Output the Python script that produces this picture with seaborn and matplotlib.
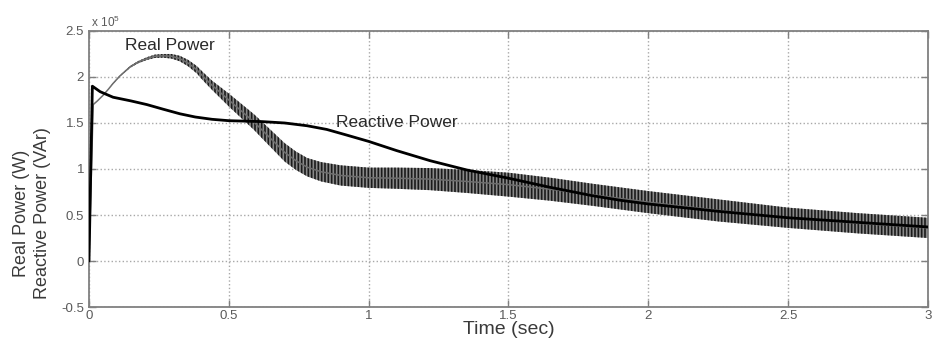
import matplotlib
matplotlib.use("Agg")
import matplotlib.pyplot as plt
from matplotlib.ticker import FuncFormatter
import pandas as pd
import seaborn as sns

# Real power: centre of the trace and half-width of its ripple (x 1e5 W)
t_real = [0.0, 0.015, 0.03, 0.05, 0.07, 0.086, 0.11, 0.147, 0.175, 0.207,
          0.235, 0.265, 0.295, 0.325, 0.355, 0.385, 0.41, 0.44, 0.47, 0.5,
          0.53, 0.56, 0.59, 0.62, 0.66, 0.70, 0.74, 0.78, 0.83, 0.9,
          1.0, 1.1, 1.22, 1.35, 1.5, 1.65, 1.8, 2.0, 2.25, 2.5, 2.75, 3.0]
p_real = [0.0, 1.70, 1.74, 1.80, 1.87, 1.93, 2.01, 2.11, 2.16, 2.20,
          2.225, 2.23, 2.225, 2.20, 2.15, 2.08, 2.00, 1.91, 1.83, 1.75,
          1.67, 1.59, 1.51, 1.42, 1.30, 1.18, 1.09, 1.02, 0.97, 0.93,
          0.905, 0.90, 0.89, 0.865, 0.83, 0.78, 0.72, 0.64, 0.55, 0.47, 0.41, 0.36]
ripple = [0.0, 0.0, 0.0, 0.0, 0.0, 0.005, 0.005, 0.01, 0.012, 0.015,
          0.018, 0.02, 0.025, 0.03, 0.035, 0.04, 0.045, 0.05, 0.06, 0.07,
          0.075, 0.08, 0.085, 0.09, 0.095, 0.10, 0.10, 0.10, 0.105, 0.11,
          0.11, 0.115, 0.12, 0.125, 0.13, 0.125, 0.12, 0.12, 0.12, 0.11, 0.11, 0.11]

# Reactive power (x 1e5 VAr)
t_reac = [0.0, 0.012, 0.04, 0.086, 0.15, 0.207, 0.265, 0.325, 0.38, 0.44,
          0.5, 0.56, 0.62, 0.7, 0.78, 0.85, 0.92, 1.0, 1.1, 1.22,
          1.35, 1.5, 1.65, 1.8, 1.9, 2.0, 2.25, 2.5, 2.75, 3.0]
q_reac = [0.0, 1.90, 1.84, 1.78, 1.74, 1.70, 1.65, 1.60, 1.565, 1.54,
          1.525, 1.52, 1.515, 1.50, 1.47, 1.43, 1.37, 1.30, 1.20, 1.09,
          0.99, 0.90, 0.80, 0.71, 0.66, 0.62, 0.54, 0.47, 0.42, 0.37]

x_ticks = [0, 0.5, 1, 1.5, 2, 2.5, 3]
y_ticks = [-0.5, 0, 0.5, 1, 1.5, 2, 2.5]

sns.set_theme(style="white")
plt.rcParams["font.family"] = ["Liberation Sans", "DejaVu Sans"]
plt.rcParams["mathtext.fontset"] = "custom"
plt.rcParams["mathtext.rm"] = "Liberation Sans"
plt.rcParams["hatch.linewidth"] = 1.2
plt.rcParams["hatch.color"] = "#1a1a1a"

real = pd.DataFrame({"t": t_real, "p": p_real, "r": ripple})
reac = pd.DataFrame({"t": t_reac, "q": q_reac})

fig = plt.figure(figsize=(9.33, 3.42), dpi=100)
ax = fig.add_axes([0.0954, 0.1023, 0.8992, 0.8071])

# ripple band of the real power trace
ax.fill_between(real["t"], real["p"] - real["r"], real["p"] + real["r"],
                facecolor="#8a8a8a", edgecolor="#1a1a1a", hatch="|||||",
                linewidth=0, zorder=2)
sns.lineplot(data=real, x="t", y="p", ax=ax, color="#6e6e6e", lw=1.1,
             sort=False, zorder=3)
sns.lineplot(data=reac, x="t", y="q", ax=ax, color="black", lw=2.0,
             sort=False, zorder=4)

ax.set_xlim(0, 3)
ax.set_ylim(-0.5, 2.5)
ax.set_xticks(x_ticks)
ax.set_yticks(y_ticks)
fmt = FuncFormatter(lambda v, _: f"{v:g}")
ax.xaxis.set_major_formatter(fmt)
ax.yaxis.set_major_formatter(fmt)

ax.grid(True, linestyle=":", color="#a8a8a8", linewidth=1.0)
ax.tick_params(direction="in", length=5, width=1.0, color="#808080",
               labelcolor="#5a5a5a", labelsize=9.5, top=True, right=True,
               bottom=True, left=True)
ax.tick_params(axis="x", pad=2)
for s in ax.spines.values():
    s.set_color("#808080")
    s.set_linewidth(1.3)
    s.set_visible(True)

ax.set_xlabel("Time (sec)", fontsize=14, color="#3a3a3a")
ax.xaxis.set_label_coords(0.5, -0.05)
ax.set_ylabel("Real Power (W)\nReactive Power (VAr)", fontsize=13,
              color="#3a3a3a", linespacing=1.3, va="center")
ax.yaxis.set_label_coords(-0.068, 0.34)

ax.text(0.002, 1.005, r"$\mathregular{x\ 10^{5}}$", transform=ax.transAxes,
        fontsize=8.5, color="#5a5a5a", ha="left", va="bottom")
ax.text(0.129, 2.34, "Real Power", fontsize=12.5, color="#2a2a2a",
        ha="left", va="center")
ax.text(0.883, 1.51, "Reactive Power", fontsize=12.5, color="#2a2a2a",
        ha="left", va="center")

fig.savefig("out.png", dpi=100, facecolor="white")
